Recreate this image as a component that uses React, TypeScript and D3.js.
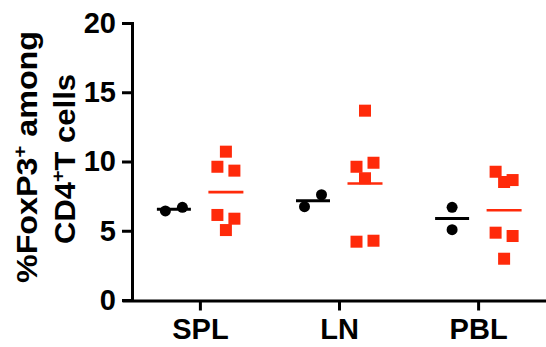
import * as d3 from "d3";
import { useRef, useEffect } from "react";

const categories = ["SPL", "LN", "PBL"];
const groups = ["control", "treated"];

// values, per tissue
const controlValues = [
  [6.43, 6.69],
  [6.74, 7.6],
  [6.69, 5.08],
];
const treatedValues = [
  [10.71, 9.62, 9.34, 6.14, 5.87, 5.05],
  [13.67, 9.62, 9.91, 8.79, 4.21, 4.28],
  [9.26, 8.52, 8.66, 4.86, 4.62, 2.98],
];
// scatter column of each point (-1 left, 0 middle, 1 right)
const controlSlots = [
  [-1, 1],
  [-1, 1],
  [0, 0],
];
const treatedSlots = [
  [0, -1, 1, -1, 1, 0],
  [0, -1, 1, 0, -1, 1],
  [-1, 0, 1, -1, 1, 0],
];
const yTicks = [0, 5, 10, 15, 20];

const width = 546;
const height = 347;
const font = "'Liberation Sans', Arial, sans-serif";
const red = "#ff2a0a";

export default function App() {
  const gx = useRef<SVGGElement>(null);
  const gy = useRef<SVGGElement>(null);

  const x = d3.scalePoint(categories, [122, 556]).padding(0.56);
  const g = d3.scalePoint(groups, [-26, 26]);
  const slot = d3.scaleLinear([-1, 1], [-8.5, 8.5]);
  const y = d3.scaleLinear([0, 20], [300, 23]);

  useEffect(() => {
    const ax = d3.select(gx.current);
    ax.call(d3.axisBottom(x).tickSize(10).tickSizeOuter(0).tickPadding(8) as any);
    ax.selectAll("path, line").attr("stroke", "#000").attr("stroke-width", 3);
    ax.selectAll("text")
      .attr("font-size", 29)
      .attr("font-weight", "bold")
      .attr("font-family", font)
      .attr("fill", "#000");

    const ay = d3.select(gy.current);
    ay.call(d3.axisLeft(y).tickValues(yTicks).tickSize(10).tickSizeOuter(0).tickPadding(6) as any);
    ay.selectAll("path, line").attr("stroke", "#000").attr("stroke-width", 3);
    ay.select("path").attr("stroke-linecap", "square");
    ay.selectAll("text")
      .attr("font-size", 29)
      .attr("font-weight", "bold")
      .attr("font-family", font)
      .attr("fill", "#000");
  }, []);

  return (
    <svg
      width={width}
      height={height}
      style={{ position: "absolute", left: 0, top: 0, background: "#fff" }}
    >
      <g ref={gx} transform={`translate(0,300.5)`} />
      <g ref={gy} transform={`translate(132,0)`} />

      <g fontFamily={font} fontWeight="bold" fontSize={30} textAnchor="middle" fill="#000">
        <text transform={`translate(36.5,157) rotate(-90)`} textLength={252} lengthAdjust="spacingAndGlyphs">
          %FoxP3<tspan dy={-11} fontSize={19}>+</tspan>
          <tspan dy={11}> among</tspan>
        </text>
        <text transform={`translate(75,159) rotate(-90)`} textLength={170} lengthAdjust="spacingAndGlyphs">
          CD4<tspan dy={-11} fontSize={19}>+</tspan>
          <tspan dy={11}>T cells</tspan>
        </text>
      </g>

      {categories.map((c, i) => {
        const cx = x(c)! + g("control")!;
        const tx = x(c)! + g("treated")!;
        const cMean = d3.mean(controlValues[i])!;
        const tMean = d3.mean(treatedValues[i])!;
        return (
          <g key={c}>
            <line x1={cx - 17} x2={cx + 17} y1={y(cMean)} y2={y(cMean)} stroke="#000" strokeWidth={3} />
            {controlValues[i].map((v, j) => (
              <circle key={j} cx={cx + slot(controlSlots[i][j])} cy={y(v)} r={5.5} fill="#000" />
            ))}
            <line x1={tx - 17.5} x2={tx + 17.5} y1={y(tMean)} y2={y(tMean)} stroke={red} strokeWidth={2.6} />
            {treatedValues[i].map((v, j) => (
              <rect
                key={j}
                x={tx + slot(treatedSlots[i][j]) - 6}
                y={y(v) - 6}
                width={12}
                height={12}
                fill={red}
              />
            ))}
          </g>
        );
      })}
    </svg>
  );
}
